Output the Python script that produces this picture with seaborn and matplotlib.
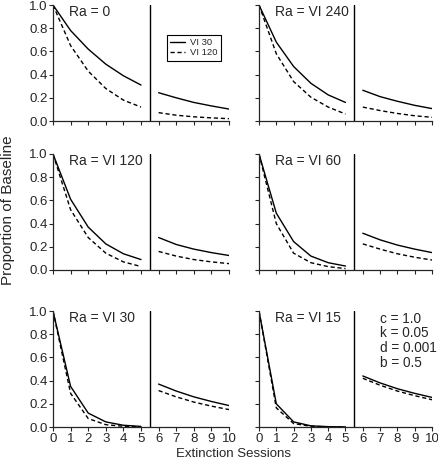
import pandas as pd
import matplotlib
matplotlib.use("Agg")
import matplotlib.pyplot as plt
import seaborn as sns
from matplotlib.lines import Line2D

sns.set_style("ticks")
plt.rcParams['font.family'] = ['Liberation Sans', 'DejaVu Sans']

# sessions: first block (0-5) and second block (6-10)
sess_a = [0, 1, 2, 3, 4, 5]
sess_b = [6, 7, 8, 9, 10]

titles = ["Ra = 0", "Ra = VI 240", "Ra = VI 120", "Ra = VI 60", "Ra = VI 30", "Ra = VI 15"]

# VI 30 (solid)
vi30_a = [
    [1.0, 0.78, 0.62, 0.49, 0.39, 0.31],
    [1.0, 0.68, 0.47, 0.325, 0.225, 0.16],
    [1.0, 0.61, 0.37, 0.225, 0.14, 0.09],
    [1.0, 0.49, 0.245, 0.12, 0.063, 0.034],
    [1.0, 0.35, 0.12, 0.044, 0.015, 0.005],
    [1.0, 0.20, 0.044, 0.01, 0.003, 0.001],
]
vi30_b = [
    [0.244, 0.20, 0.16, 0.13, 0.103],
    [0.265, 0.21, 0.17, 0.135, 0.107],
    [0.28, 0.22, 0.18, 0.15, 0.125],
    [0.317, 0.26, 0.215, 0.18, 0.15],
    [0.37, 0.31, 0.26, 0.22, 0.185],
    [0.44, 0.38, 0.33, 0.29, 0.255],
]

# VI 120 (dashed)
vi120_a = [
    [1.0, 0.65, 0.43, 0.28, 0.18, 0.12],
    [1.0, 0.58, 0.34, 0.205, 0.12, 0.06],
    [1.0, 0.52, 0.28, 0.145, 0.07, 0.03],
    [1.0, 0.40, 0.145, 0.063, 0.029, 0.012],
    [1.0, 0.29, 0.073, 0.02, 0.006, 0.002],
    [1.0, 0.165, 0.03, 0.006, 0.001, 0.0],
]
vi120_b = [
    [0.072, 0.05, 0.036, 0.027, 0.02],
    [0.12, 0.09, 0.065, 0.045, 0.032],
    [0.16, 0.12, 0.09, 0.07, 0.055],
    [0.225, 0.18, 0.14, 0.11, 0.086],
    [0.314, 0.26, 0.215, 0.18, 0.15],
    [0.42, 0.36, 0.31, 0.27, 0.235],
]

params_text = "c = 1.0\nk = 0.05\nd = 0.001\nb = 0.5"

fig = plt.figure(figsize=(4.39, 4.66), dpi=100)

lefts = [53 / 439, 259 / 439]
widths = [176 / 439, 173 / 439]
bottoms = [1 - 121 / 466, 1 - 270 / 466, 1 - 427 / 466]
height = 116 / 466

for i in range(6):
    r, c = divmod(i, 2)
    ax = fig.add_axes([lefts[c], bottoms[r], widths[c], height])

    rows = []
    for seg, xs, s30, s120 in [("a", sess_a, vi30_a[i], vi120_a[i]),
                               ("b", sess_b, vi30_b[i], vi120_b[i])]:
        for x, v in zip(xs, s30):
            rows.append({"session": x, "prop": v, "schedule": "VI 30", "seg": seg})
        for x, v in zip(xs, s120):
            rows.append({"session": x, "prop": v, "schedule": "VI 120", "seg": seg})
    df = pd.DataFrame(rows)

    sns.lineplot(data=df, x="session", y="prop", style="schedule", units="seg",
                 estimator=None, color="black", lw=1.0,
                 dashes={"VI 30": "", "VI 120": (3, 2)}, legend=False, ax=ax)

    ax.axvline(5.5, color="black", lw=1.0)
    ax.set_xlim(0, 10)
    ax.set_ylim(0, 1.0)
    ax.set_xticks(range(11))
    ax.set_yticks([0, 0.2, 0.4, 0.6, 0.8, 1.0])
    ax.set_xlabel("")
    ax.set_ylabel("")
    ax.tick_params(length=3, width=0.8, labelsize=9.5, pad=1.0)
    if c == 0:
        ax.set_yticklabels(["0.0", "0.2", "0.4", "0.6", "0.8", "1.0"])
    else:
        ax.set_yticklabels([])
    if r < 2:
        ax.set_xticklabels([])
    for sp in ["left", "bottom"]:
        ax.spines[sp].set_linewidth(0.9)
    sns.despine(ax=ax)

    ax.text(0.9, 0.94, titles[i], fontsize=10, ha="left", va="center")

    if i == 0:
        handles = [Line2D([], [], color="black", lw=1.0),
                   Line2D([], [], color="black", lw=1.0, dashes=(3, 2))]
        leg = ax.legend(handles, ["VI 30", "VI 120"], loc="upper left",
                        bbox_to_anchor=(0.648, 0.745), fontsize=6.8,
                        frameon=True, fancybox=False, framealpha=1,
                        edgecolor="black", handlelength=1.6, handletextpad=0.5,
                        labelspacing=0.15, borderpad=0.35, borderaxespad=0)
        leg.get_frame().set_linewidth(0.8)
    if i == 5:
        ax.text(7.0, 0.995, params_text, fontsize=9.8, ha="left", va="top",
                linespacing=1.07)

fig.text(8 / 439, 1 - 210 / 466, "Proportion of Baseline", rotation=90,
         ha="center", va="center", fontsize=11)
fig.text(234 / 439, 1 - 454 / 466, "Extinction Sessions", ha="center",
         va="center", fontsize=9.5)

fig.savefig("out.png", dpi=100)
